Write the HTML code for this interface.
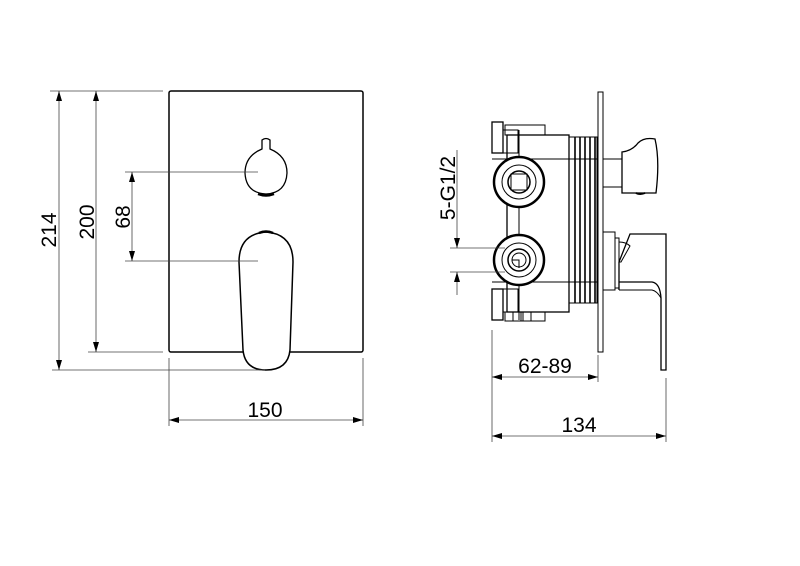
<!DOCTYPE html>
<html><head><style>html,body{margin:0;padding:0;background:#fff}svg{display:block}text{font-family:"Liberation Sans",sans-serif;font-size:21px;fill:#000}</style></head>
<body>
<svg width="800" height="566" viewBox="0 0 800 566" xmlns="http://www.w3.org/2000/svg">
<defs>
<marker id="a" viewBox="0 0 10 6" refX="10" refY="3" markerWidth="10" markerHeight="6" orient="auto-start-reverse" markerUnits="userSpaceOnUse"><path d="M0,0 L10,3 L0,6 z" fill="#000"/></marker>
</defs>
<g fill="none" stroke="#000" stroke-width="1">
<rect x="169" y="91" width="194" height="261" rx="2" stroke-width="1.5"/>
<path d="M262,140 Q266,137 270,140 L270,149 Q287,156 287,173 Q286,193 266,194 Q246,193 245,173 Q245,156 262,149 Z" stroke-width="1.3"/>
<path d="M258,194 Q266,197 274,194" stroke-width="2.5"/>
<path d="M266,232 Q293,234 293,262 L290,350 Q288,370 266,370 Q245,370 243,350 L239,262 Q239,234 266,232 Z" fill="#fff" stroke-width="1.5"/>
<path d="M259,233 Q266,230 273,233" stroke-width="2.5"/>
<g stroke="#444" stroke-width="0.8">
<line x1="50" y1="91" x2="163" y2="91"/>
<line x1="88" y1="352" x2="163" y2="352"/>
<line x1="52" y1="370" x2="265" y2="370"/>
<line x1="125" y1="172" x2="258" y2="172"/>
<line x1="125" y1="261" x2="258" y2="261"/>
<line x1="59" y1="91" x2="59" y2="370" marker-start="url(#a)" marker-end="url(#a)"/>
<line x1="96" y1="91" x2="96" y2="352" marker-start="url(#a)" marker-end="url(#a)"/>
<line x1="132" y1="172" x2="132" y2="261" marker-start="url(#a)" marker-end="url(#a)"/>
<line x1="169" y1="358" x2="169" y2="426"/>
<line x1="363" y1="358" x2="363" y2="426"/>
<line x1="169" y1="420" x2="363" y2="420" marker-start="url(#a)" marker-end="url(#a)"/>
</g>
<rect x="598" y="92" width="5" height="260"/>
<rect x="507" y="135" width="62" height="177" stroke-width="1.3"/>
<rect x="569" y="137" width="28" height="166"/>
<g stroke-width="1.6"><line x1="575" y1="137" x2="575" y2="303"/><line x1="580" y1="137" x2="580" y2="303"/><line x1="585" y1="137" x2="585" y2="303"/><line x1="590" y1="137" x2="590" y2="303"/><line x1="595" y1="137" x2="595" y2="303"/></g>
<rect x="492" y="122" width="11" height="31" stroke-width="1.3"/>
<rect x="492" y="289" width="11" height="31" stroke-width="1.3"/>
<rect x="503" y="130" width="15" height="23"/>
<rect x="503" y="289" width="15" height="23"/>
<rect x="505" y="125" width="40" height="10"/>
<rect x="505" y="312" width="40" height="9"/>
<rect x="513" y="312" width="8" height="9"/><rect x="523" y="312" width="8" height="9"/>
<line x1="519" y1="130" x2="519" y2="320"/>
<line x1="492" y1="159" x2="598" y2="159"/>
<line x1="492" y1="282" x2="598" y2="282"/>
<circle cx="519" cy="182" r="25" fill="#fff" stroke-width="2.5"/>
<circle cx="519" cy="182" r="17"/>
<circle cx="519" cy="182" r="11" stroke-width="1.5"/>
<rect x="511" y="174" width="16" height="16"/>
<circle cx="519" cy="260" r="25" fill="#fff" stroke-width="2.5"/>
<circle cx="519" cy="260" r="17"/>
<circle cx="519" cy="260" r="11" stroke-width="1.5"/>
<circle cx="519" cy="260" r="7"/>
<path d="M512,260 H519 V268"/>
<rect x="603" y="159" width="19" height="28"/>
<path d="M622,152 Q632,151 638,143 Q644,137 655,139 Q660,160 656,193 L622,193 Z" stroke-width="1.3"/>
<path d="M636,193 Q640,195 645,193" stroke-width="2"/>
<rect x="603" y="232" width="12" height="58"/>
<rect x="615" y="238" width="4" height="50"/>
<path d="M619,242 Q626,242 630,246 L621,262 L619,262"/>
<path d="M619,290 L619,262 L630,234 L666,234 L666,370 L661,370 L661,298 Q660,283 652,282 L619,282" stroke-width="1.3"/>
<path d="M619,290 H652 Q657,291 661,298"/>
<g stroke="#444" stroke-width="0.8">
<line x1="492" y1="330" x2="492" y2="442"/>
<line x1="598" y1="355" x2="598" y2="382"/>
<line x1="666" y1="378" x2="666" y2="442"/>
<line x1="492" y1="377" x2="598" y2="377" marker-start="url(#a)" marker-end="url(#a)"/>
<line x1="492" y1="436" x2="666" y2="436" marker-start="url(#a)" marker-end="url(#a)"/>
<line x1="450" y1="248" x2="505" y2="248"/>
<line x1="450" y1="272" x2="505" y2="272"/>
<line x1="457" y1="235" x2="457" y2="248" marker-end="url(#a)"/>
<line x1="457" y1="295" x2="457" y2="272" marker-end="url(#a)"/>
<line x1="457" y1="150" x2="457" y2="235"/>
</g>
</g>
<text x="265" y="417" text-anchor="middle">150</text>
<text x="545" y="373" text-anchor="middle">62-89</text>
<text x="579" y="432" text-anchor="middle">134</text>
<text transform="translate(56,230) rotate(-90)" text-anchor="middle">214</text>
<text transform="translate(94,222) rotate(-90)" text-anchor="middle">200</text>
<text transform="translate(130,217) rotate(-90)" text-anchor="middle">68</text>
<text transform="translate(455,188) rotate(-90)" text-anchor="middle">5-G1/2</text>
</svg>
</body></html>
